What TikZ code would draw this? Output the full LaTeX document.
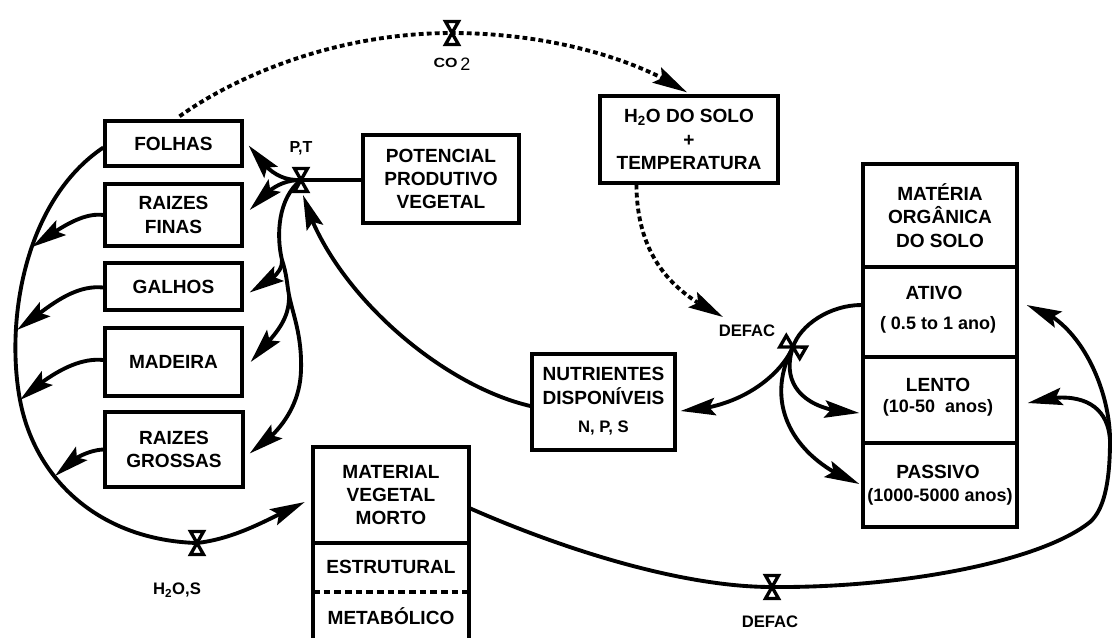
\documentclass[tikz,border=0pt]{standalone}
\usepackage{fontspec}
\setmainfont{Liberation Sans}
\usetikzlibrary{arrows.meta,bending,calc}
\newcommand\bftxt{\fontsize{14.3}{17.5}\selectfont\bfseries}
\newcommand\partxt{\fontsize{13.5}{16}\selectfont\bfseries}
\begin{document}
\begin{tikzpicture}[x=0.75pt,y=-0.75pt,
  bwh/.style 2 args={minimum width=#1*0.75pt, minimum height=#2*0.75pt},
  box/.style={draw, line width=2.5pt, inner sep=0pt, align=center, font=\bftxt},
  txt/.style={align=center, font=\bftxt, inner sep=0pt},
  ptxt/.style={align=center, font=\partxt, inner sep=0pt},
  small/.style={font=\fontsize{12.5}{14}\selectfont\bfseries, inner sep=0pt},
  con/.style={line width=2.9pt},
  tip/.style={-{Stealth[length=26pt,width=13pt,inset=4.5pt]}},
  arr/.style={con, tip},
  dot/.style={line width=2.9pt, dash pattern=on 3.6pt off 2.4pt},
  valve/.pic={\draw[line width=2.5pt, fill=white, line join=miter, miter limit=10]
     (-6.5,-11.5) -- (6.5,-11.5) -- (-6.5,11.5) -- (6.5,11.5) -- cycle;}
]
\useasboundingbox (0,0) rectangle (1112,637);

% ---------- boxes ----------
\node[box, bwh={137}{45}] (folhas) at (173.5,143.5) {FOLHAS};
\node[box, bwh={137}{62}] (finas) at (173.5,215) {RAIZES\\FINAS};
\node[box, bwh={137}{47}] (galhos) at (173.5,286.5) {GALHOS};
\node[box, bwh={137}{68}] (madeira) at (173.5,362) {MADEIRA};
\node[box, bwh={138}{75}] (grossas) at (174,449.5) {RAIZES\\GROSSAS};
\node[box, bwh={156}{88}] (potencial) at (441,179) {POTENCIAL\\PRODUTIVO\\VEGETAL};
\node[box, bwh={178}{87}] (h2o) at (689,139.5) {H\textsubscript{2}O DO SOLO\\+\\TEMPERATURA};
\node[box, bwh={143}{96}] (nutri) at (603.5,402) {};
\node[txt] (nutritxt) at (603.5,386) {NUTRIENTES\\DISPONÍVEIS};
\node[small] (nps) at (603.5,428) {N, P, S};

% soil organic matter
\node[box, bwh={154}{103}] (mos) at (940,215.5) {MATÉRIA\\ORGÂNICA\\DO SOLO};
\node[box, bwh={154}{90}] (ativo) at (940,312) {};
\node[box, bwh={154}{86}] (lento) at (940,400) {};
\node[box, bwh={154}{84}] (passivo) at (940,485) {};
\node[txt] (ativot) at (934,293) {ATIVO};
\node[ptxt] (ativop) at (938,325) {( 0.5 to 1 ano)};
\node[txt] (lentot) at (938,385) {LENTO};
\node[ptxt] (lentop) at (938,408) {(10-50\ \ anos)};
\node[txt] (passt) at (938,472) {PASSIVO};
\node[ptxt] (passp) at (940,497) {(1000-5000 anos)};

% dead plant material
\node[txt, bwh={156}{96}] (matv) at (391,495) {MATERIAL\\VEGETAL\\MORTO};
\node[txt] (estr) at (391,567) {ESTRUTURAL};
\node[txt] (metab) at (391,616) {METABÓLICO};
\draw[line width=2.5pt] (313,645) -- (313,447) -- (469,447) -- (469,645);
\draw[line width=2.5pt] (313,543) -- (469,543);
\draw[line width=2.5pt, dash pattern=on 5pt off 3pt] (313,592) -- (469,592);

% ---------- valves / junction coordinates ----------
\coordinate (co2v) at (452,33);
\coordinate (ptv) at (301,180);
\coordinate (h2osv) at (197,543);
\coordinate (defac1) at (793,347);
\coordinate (defac2) at (772,587);
\coordinate (dtip) at (723,317);
\coordinate (tr1) at (282,260);
\coordinate (tr2) at (289,295);
\coordinate (tr3) at (301,370);
\coordinate (c1) at (32,247);
\coordinate (c2) at (17,330);
\coordinate (c3) at (20,400);
\coordinate (c4) at (55,476);
\coordinate (rb) at (1090,522);
\coordinate (rj) at (1110,440);

% ---------- connectors ----------
% CO2 dotted
\draw[dot, tip] ($(folhas.north)+(6,-3)$) .. controls (230,80) and (330,33) .. (co2v)
   .. controls (540,33) and (630,55) .. ($(h2o.north)+(-2,-2)$);
% H2O dotted to DEFAC
\draw[dot, tip] ($(h2o.south west)!0.21!(h2o.south east)$) .. controls (637,270) and (688,299) .. (dtip);

% P,T
\draw[con] (ptv) -- (potencial.west |- ptv);
\draw[arr] (ptv) .. controls (276,181) and (264,166) .. ($(folhas.east)+(5,2)$);
\draw[arr] (ptv) .. controls (278,180) and (265,193) .. ($(finas.east)+(6,-5)$);
\draw[arr] (ptv) .. controls (278,198) and (276,235) .. (tr1) .. controls (287,275) and (287,285) .. (tr2)
   .. controls (293,315) and (302,335) .. (tr3) .. controls (300,410) and (275,437) .. ($(grossas.east)+(5,4)$);
\draw[arr] (tr1) .. controls (283,275) and (265,283) .. ($(galhos.east)+(6,6)$);
\draw[arr] (tr2) .. controls (290,325) and (268,340) .. ($(madeira.east)+(7,0)$);
% nutrients to P,T
\draw[arr] ($(nutri.west)+(0,4)$) .. controls (440,385) and (330,290) .. ($(ptv)+(2,15)$);

% big left curve
\draw[con] ($(folhas.west)+(0,4)$) .. controls (25,200) and (5,320) .. (c3) .. controls (35,480) and (100,540) .. (h2osv);
\draw[arr] (h2osv) .. controls (240,538) and (275,515) .. ($(matv.west)+(-8,7)$);
\draw[arr] (finas.west) .. controls (80,212) and (55,232) .. (c1);
\draw[arr] ($(galhos.west)+(0,1)$) .. controls (70,284) and (42,313) .. (c2);
\draw[arr] ($(madeira.west)+(0,-2)$) .. controls (75,357) and (45,378) .. (c3);
\draw[arr] (grossas.west) .. controls (90,450) and (70,458) .. (c4);

% upper DEFAC
\draw[con] ($(ativo.west)+(0,-7)$) .. controls (830,305) and (800,325) .. (defac1);
\draw[arr] (defac1) .. controls (782,372) and (745,408) .. ($(nutri.east)+(4,9)$);
\draw[arr] (defac1) .. controls (780,385) and (805,412) .. ($(lento.west)+(-2,13)$);
\draw[arr] (defac1) .. controls (762,405) and (795,460) .. ($(passivo.west)+(-2,-1)$);

% lower DEFAC and right loop
\draw[con] ($(matv.east)+(0,13)$) .. controls (560,548) and (680,587) .. (defac2);
\draw[arr] (defac2) .. controls (900,588) and (1040,562) .. (rb) .. controls (1106,508) and (1110,475) .. (rj)
   .. controls (1110,390) and (1080,318) .. ($(ativo.east)+(8,-7)$);
\draw[arr] (rj) .. controls (1108,405) and (1080,388) .. ($(lento.east)+(9,3)$);

% ---------- valves ----------
\pic at (co2v) {valve};
\pic at (ptv) {valve};
\pic at (h2osv) {valve};
\pic at (defac2) {valve};
\pic[rotate=60] at (defac1) {valve};

% ---------- labels ----------
\node[inner sep=0pt] (co2l) at (452,64) {\scalebox{1.2}[1]{\fontsize{10}{12}\selectfont\bfseries CO}\hspace{2pt}\raisebox{-2pt}{\fontsize{13.5}{14}\selectfont 2}};
\node[font=\fontsize{12}{14}\selectfont\bfseries, inner sep=0pt] (ptl) at (301,148) {P,T};
\node[font=\fontsize{12.5}{14}\selectfont\bfseries, inner sep=0pt] (h2osl) at (177,590) {H\textsubscript{2}O,S};
\node[small] (defacl1) at (747,331) {DEFAC};
\node[small] (defacl2) at (770,622) {DEFAC};
\end{tikzpicture}
\end{document}
